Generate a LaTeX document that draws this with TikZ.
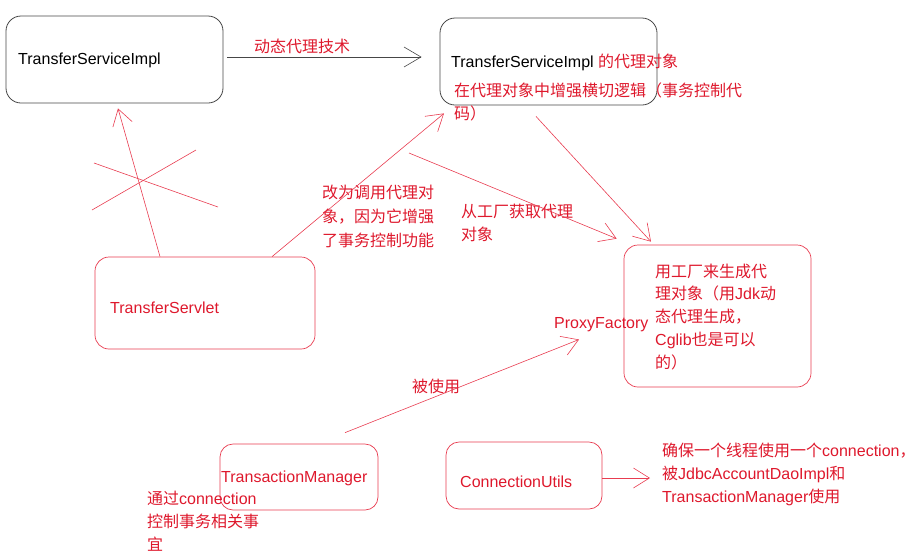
\documentclass[tikz,border=0pt]{standalone}
\usepackage{fontspec}
\setmainfont{Liberation Sans}
\newfontfamily\cjk{Noto Sans CJK SC}
\usetikzlibrary{arrows.meta}
\definecolor{txtred}{RGB}{222,24,44}
\definecolor{linered}{RGB}{232,60,80}
\definecolor{boxgrey}{RGB}{70,70,70}
\begin{document}
\begin{tikzpicture}[x=1pt,y=-1pt,
  font=\fontsize{16}{23}\selectfont,
  greybox/.style={draw=boxgrey, line width=0.8pt, rounded corners=15pt, inner sep=0pt},
  redbox/.style={draw=linered, line width=0.7pt, rounded corners=14pt, inner sep=0pt},
  txt/.style={inner sep=0pt, anchor=base west, align=left},
  redtxt/.style={txt, text=txtred},
  arr/.style={draw=linered, line width=0.6pt, -{Straight Barb[length=16pt,width=20pt]}},
  greyarr/.style={draw=boxgrey, line width=0.6pt, -{Straight Barb[length=17pt,width=20pt]}}]
\useasboundingbox (0,0) rectangle (916,555);
% boxes
\node[greybox, minimum width=217pt, minimum height=87pt] (A) at (114.5,59.5) {};
\node[greybox, minimum width=217pt, minimum height=87pt] (B) at (548.5,61.5) {};
\node[redbox, minimum width=220pt, minimum height=92pt] (C) at (205,303) {};
\node[redbox, minimum width=187pt, minimum height=142pt] (D) at (717.5,316) {};
\node[redbox, rounded corners=13pt, minimum width=158pt, minimum height=66pt] (E) at (299,477) {};
\node[redbox, rounded corners=13pt, minimum width=156pt, minimum height=67pt] (F) at (524,475.5) {};
% texts (multi-line nodes: base anchor = baseline of last line)
\node[txt] (tA) at (18,64) {TransferServiceImpl};
\node[redtxt] (l1) at (254,52) {\cjk 动态代理技术};
\node[txt] (tB1) at (451,67) {TransferServiceImpl {\cjk\color{txtred}的代理对象}};
\node[redtxt] (tB2) at (454,119) {\cjk 在代理对象中增强横切逻辑（事务控制代\\\cjk 码）};
\node[redtxt] (tC) at (110,313) {TransferServlet};
\node[redtxt, font=\fontsize{16}{24}\selectfont] (l2) at (322,246) {\cjk 改为调用代理对\\\cjk 象，因为它增强\\\cjk 了事务控制功能};
\node[redtxt] (l3) at (461,240) {\cjk 从工厂获取代理\\\cjk 对象};
\node[redtxt, font=\fontsize{16}{22.75}\selectfont] (tD) at (655,368) {{\cjk 用工厂来生成代}\\{\cjk 理对象（用}Jdk{\cjk 动}\\{\cjk 态代理生成，}\\Cglib{\cjk 也是可以}\\{\cjk 的）}};
\node[redtxt] (PF) at (554,328) {ProxyFactory};
\node[redtxt] (l4) at (412,392) {\cjk 被使用};
\node[redtxt] (tE) at (221,482) {TransactionManager};
\node[redtxt] (n1) at (147,550) {{\cjk 通过}connection\\{\cjk 控制事务相关事}\\{\cjk 宜}};
\node[redtxt] (tF) at (460,487) {ConnectionUtils};
\node[redtxt] (n2) at (662,502) {{\cjk 确保一个线程使用一个}connection{\cjk ，}\\{\cjk 被}JdbcAccountDaoImpl{\cjk 和}\\TransactionManager{\cjk 使用}};
% free ends
\coordinate (p1) at (409,153);
\coordinate (q) at (650,478);
% connectors
\draw[greyarr] ([xshift=4pt,yshift=2.5pt]A.east) -- ([xshift=-18pt,yshift=4.5pt]B.west);
\draw[arr] ([xshift=-45pt]C.north) -- ([xshift=3.5pt,yshift=-5pt]A.south);
\draw[arr] ([xshift=67pt]C.north) -- ([xshift=-104.5pt,yshift=-8pt]B.south);
\draw[arr] (p1) -- ([xshift=-7pt,yshift=6pt]D.north west);
\draw[arr] ([xshift=-12.5pt,yshift=-11pt]B.south) -- ([xshift=-66.5pt,yshift=3pt]D.north);
\draw[arr] ([xshift=46pt,yshift=11pt]E.north) -- ([xshift=25pt,yshift=-8pt]PF.south west);
\draw[arr] ([yshift=-2.5pt]F.east) -- (q);
% cross
\draw[linered, line width=0.6pt] (92,210) -- (196,150);
\draw[linered, line width=0.6pt] (94,163) -- (218,207);
\end{tikzpicture}
\end{document}
